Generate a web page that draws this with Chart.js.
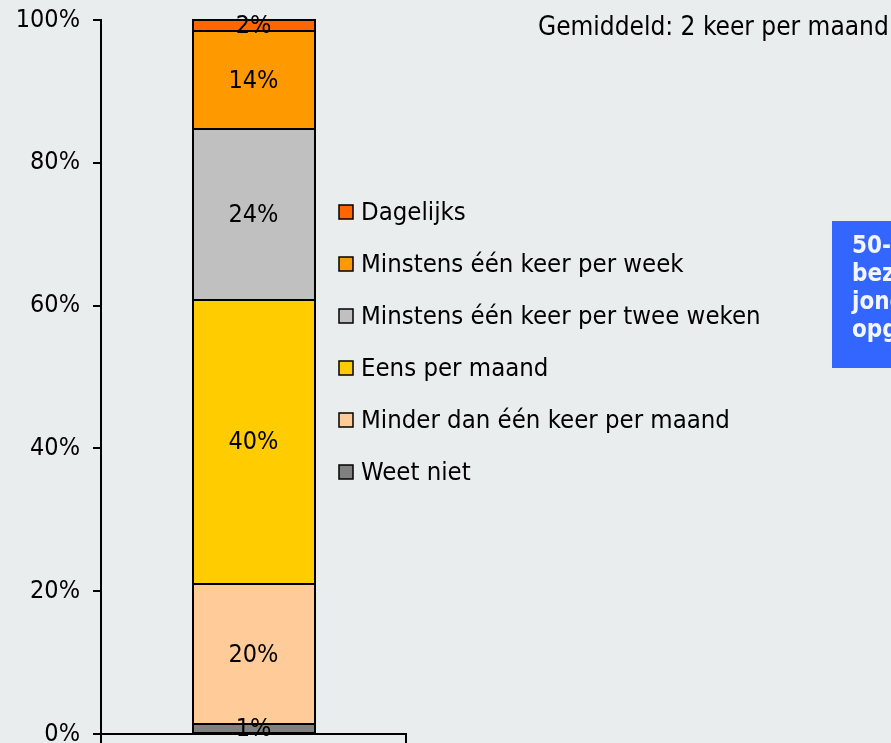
<!DOCTYPE html>
<html>
<head>
<meta charset="utf-8">
<script src="https://cdn.jsdelivr.net/npm/chart.js@4"></script>
<style>
  html, body { margin: 0; padding: 0; background: #e9edee; }
  #wrap { width: 891px; height: 743px; position: relative; }
</style>
</head>
<body>
<div id="wrap"><canvas id="freqChart" width="891" height="743"></canvas></div>
<script>
// share of respondents per visiting frequency (percent), bottom to top
const categories = [""];
const seriesLabels = [
  "Weet niet",
  "Minder dan één keer per maand",
  "Eens per maand",
  "Minstens één keer per twee weken",
  "Minstens één keer per week",
  "Dagelijks"
];
const weetNiet = [1.4];
const minderDanMaand = [19.6];
const eensPerMaand = [39.8];
const tweeWeken = [23.9];
const perWeek = [13.7];
const dagelijks = [1.6];
const seriesColors = ["#808080", "#ffcc99", "#ffcc00", "#c0c0c0", "#ff9900", "#ff6600"];
const yTicks = [0, 20, 40, 60, 80, 100];

const titleText = "Gemiddeld: 2 keer per maand";
const noteLines = ["50-plussers", "bezoeken", "jongeren", "opgeteld"];

const FONT = "'DejaVu Sans Condensed', 'DejaVu Sans', sans-serif";

const seriesValues = [weetNiet, minderDanMaand, eensPerMaand, tweeWeken, perWeek, dagelijks];

// black outlines centred on the segment edges, plus the percentage labels
const segmentLabels = {
  id: "segmentLabels",
  afterDatasetsDraw(chart) {
    const ctx = chart.ctx;
    ctx.save();
    ctx.strokeStyle = "#000";
    ctx.lineWidth = 2;
    chart.data.datasets.forEach((ds, i) => {
      chart.getDatasetMeta(i).data.forEach((bar) => {
        const l = Math.round(bar.x - bar.width / 2), r = Math.round(bar.x + bar.width / 2);
        const t = Math.round(bar.y), b = Math.round(bar.base);
        ctx.strokeRect(l, t, r - l, b - t);
      });
    });
    ctx.font = "25px " + FONT;
    ctx.fillStyle = "#000";
    ctx.textAlign = "center";
    ctx.textBaseline = "middle";
    chart.data.datasets.forEach((ds, i) => {
      chart.getDatasetMeta(i).data.forEach((bar, j) => {
        const mid = (bar.y + bar.base) / 2;
        ctx.fillText(Math.round(ds.data[j]) + "%", bar.x, mid + 1);
      });
    });
    ctx.restore();
  }
};

// legend (top item = last series), title and the blue note box
const extras = {
  id: "extras",
  afterDraw(chart) {
    const ctx = chart.ctx;
    ctx.save();
    ctx.font = "25.5px " + FONT;
    ctx.textBaseline = "middle";
    ctx.textAlign = "left";
    const n = chart.data.datasets.length;
    for (let k = 0; k < n; k++) {
      const ds = chart.data.datasets[n - 1 - k];
      const y = 212 + k * 52;
      ctx.fillStyle = ds.backgroundColor;
      ctx.fillRect(339, y - 7, 14, 14);
      ctx.strokeStyle = "#000";
      ctx.lineWidth = 1.5;
      ctx.strokeRect(339, y - 7, 14, 14);
      ctx.fillStyle = "#000";
      ctx.fillText(ds.label, 361, y + 1);
    }

    ctx.font = "26px " + FONT;
    ctx.fillText(titleText, 538, 28);

    ctx.fillStyle = "#3366ff";
    ctx.fillRect(832, 221, 80, 147);
    ctx.fillStyle = "#f4f6ff";
    ctx.font = "bold 24px " + FONT;
    noteLines.forEach((t, i) => ctx.fillText(t, 852, 247 + i * 28));
    ctx.restore();
  }
};

new Chart(document.getElementById("freqChart").getContext("2d"), {
  type: "bar",
  data: {
    labels: categories,
    datasets: seriesLabels.map((label, i) => ({
      label: label,
      data: seriesValues[i],
      backgroundColor: seriesColors[i],
      borderWidth: 0,
      barPercentage: 0.4,
      categoryPercentage: 1
    }))
  },
  options: {
    responsive: false,
    animation: false,
    layout: { padding: { top: 20, right: 485, left: 0, bottom: 0 } },
    plugins: {
      legend: { display: false },
      tooltip: { enabled: false }
    },
    scales: {
      x: {
        stacked: true,
        afterFit: (s) => { s.height = 9; s.paddingLeft = 0; s.paddingRight = 0; },
        grid: {
          offset: true,
          drawOnChartArea: false,
          color: "#000",
          lineWidth: 2,
          tickLength: 9
        },
        border: { color: "#000", width: 2 },
        ticks: { display: false }
      },
      y: {
        stacked: true,
        min: 0,
        max: 100,
        afterFit: (s) => { s.width = 101; s.paddingTop = 0; s.paddingBottom = 0; },
        afterBuildTicks: (s) => { s.ticks = yTicks.map((v) => ({ value: v })); },
        grid: {
          drawOnChartArea: false,
          color: "#000",
          lineWidth: 2,
          tickLength: 8
        },
        border: { color: "#000", width: 2 },
        ticks: {
          color: "#000",
          padding: 13,
          font: { family: FONT, size: 25 },
          callback: (v) => v + "%"
        }
      }
    }
  },
  plugins: [segmentLabels, extras]
});
</script>
</body>
</html>
